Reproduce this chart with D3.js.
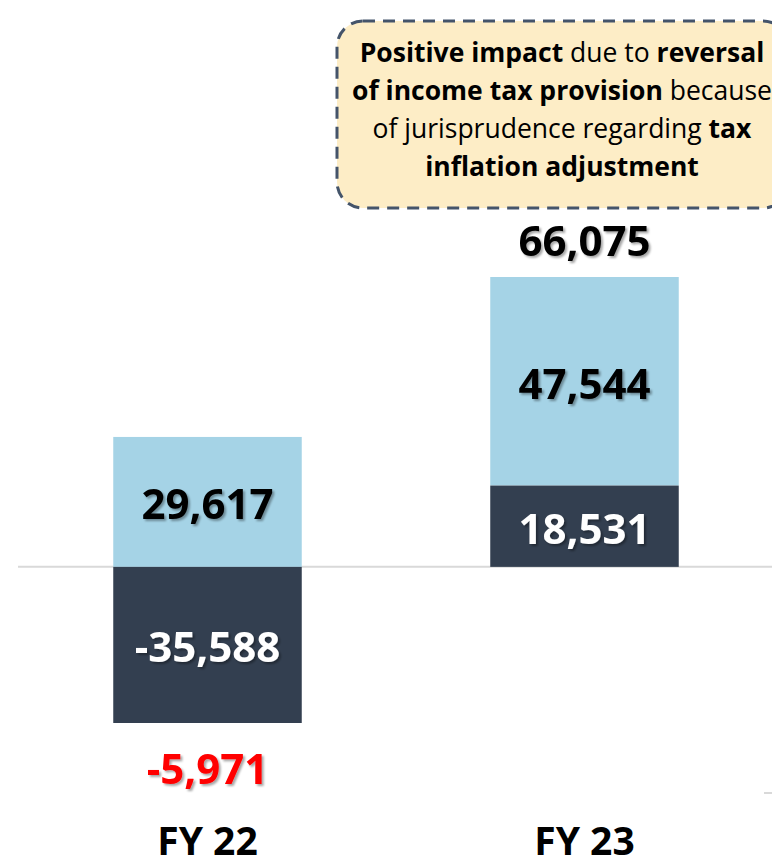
<!DOCTYPE html>
<html>
<head>
<meta charset="utf-8">
<script src="https://cdn.jsdelivr.net/npm/d3@7"></script>
<style>
  html, body { margin: 0; padding: 0; background: #ffffff; }
  svg { display: block; }
</style>
</head>
<body>
<svg id="chart" width="772" height="867"></svg>
<script>
// Fiscal years and the two stacked components of net income
const years = ["FY 22", "FY 23", "FY 24"];
const shownYears = ["FY 22", "FY 23"];
const operatingResult = [-35588, 18531];   // dark segment
const taxEffect = [29617, 47544];          // light segment
const netResult = [-5971, 66075];          // total label

const calloutLines = [
  [["Positive impact", true], [" due to ", false], ["reversal", true]],
  [["of income tax provision", true], [" because", false]],
  [["of jurisprudence regarding ", false], ["tax", true]],
  [["inflation adjustment", true]]
];

const svg = d3.select("#chart");
const font = "'Open Sans', 'Noto Sans', sans-serif";

const x = d3.scaleBand().domain(years).range([19, 1150]).paddingInner(0.5).paddingOuter(0.25);
const y = d3.scaleLinear().domain([-35588, 66075]).range([723, 277]);

const dark = "#333f50", light = "#a5d3e6";

// soft drop shadow used behind the value labels
const defs = svg.append("defs");
const f = defs.append("filter").attr("id", "shadow").attr("x", "-20%").attr("y", "-20%").attr("width", "140%").attr("height", "160%");
f.append("feDropShadow").attr("dx", 2).attr("dy", 2).attr("stdDeviation", 1.2)
  .attr("flood-color", "#000").attr("flood-opacity", 0.35);

// zero line
svg.append("line")
  .attr("x1", 18).attr("x2", 772)
  .attr("y1", y(0)).attr("y2", y(0))
  .attr("stroke", "#d9d9d9").attr("stroke-width", 2);

// short axis stub of the neighbouring panel
svg.append("line")
  .attr("x1", 764).attr("x2", 772).attr("y1", 793).attr("y2", 793)
  .attr("stroke", "#d9d9d9").attr("stroke-width", 2);

const data = shownYears.map((yr, i) => ({
  year: yr, op: operatingResult[i], tax: taxEffect[i], net: netResult[i]
}));

const fmt = v => d3.format(",")(v).replace("\u2212", "-");

const g = svg.append("g");
data.forEach(d => {
  const x0 = x(d.year), w = x.bandwidth(), cx = x0 + w / 2;
  // operating segment from zero
  const opTop = Math.min(y(0), y(d.op)), opBot = Math.max(y(0), y(d.op));
  // tax segment stacked on the positive side
  const base = d.op > 0 ? d.op : 0;
  const taxTop = y(base + d.tax), taxBot = y(base);

  g.append("rect").attr("x", x0).attr("y", taxTop).attr("width", w).attr("height", taxBot - taxTop).attr("fill", light);
  g.append("rect").attr("x", x0).attr("y", opTop).attr("width", w).attr("height", opBot - opTop).attr("fill", dark);

  const lbl = (txt, ty, color) => g.append("text")
    .attr("x", cx).attr("y", ty)
    .attr("text-anchor", "middle").attr("dominant-baseline", "central")
    .attr("font-family", font).attr("font-weight", 700).attr("font-size", 42)
    .attr("fill", color).attr("filter", "url(#shadow)")
    .text(txt);

  lbl(fmt(d.tax), (taxTop + taxBot) / 2 + 1, "#000");
  lbl(fmt(d.op), (opTop + opBot) / 2 + 1, "#fff");
  if (d.net > 0) lbl(fmt(d.net), taxTop - 38, "#000");
  else lbl(fmt(d.net), opBot + 44, "#ff0000");
});

// category labels
svg.append("g").selectAll("text").data(shownYears).join("text")
  .attr("x", d => x(d) + x.bandwidth() / 2)
  .attr("y", 855)
  .attr("text-anchor", "middle")
  .attr("font-family", font).attr("font-weight", 700).attr("font-size", 39)
  .attr("fill", "#000")
  .text(d => d);

// callout box
const cb = svg.append("g");
cb.append("rect")
  .attr("x", 337).attr("y", 21).attr("width", 452).attr("height", 187)
  .attr("rx", 26).attr("ry", 26)
  .attr("fill", "#fdedc6")
  .attr("stroke", "#44546a").attr("stroke-width", 3)
  .attr("stroke-dasharray", "12 8");

const ct = cb.append("text")
  .attr("text-anchor", "middle")
  .attr("font-family", font).attr("font-size", 26.5).attr("fill", "#000");
calloutLines.forEach((line, i) => {
  const t = ct.append("tspan").attr("x", 562).attr("y", 62 + i * 38);
  line.forEach(([s, b]) => {
    t.append("tspan").attr("font-weight", b ? 700 : 400).text(s);
  });
});
</script>
</body>
</html>
